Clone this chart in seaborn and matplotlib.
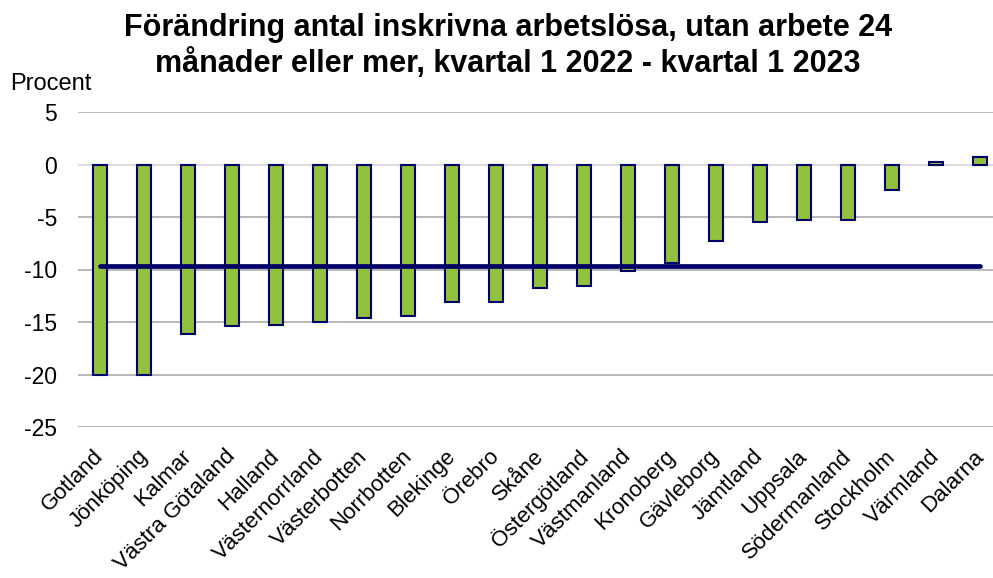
import matplotlib
matplotlib.use("Agg")
import matplotlib.pyplot as plt
from matplotlib.transforms import ScaledTranslation
import seaborn as sns
import pandas as pd

categories = ["Gotland", "Jönköping", "Kalmar", "Västra Götaland", "Halland",
              "Västernorrland", "Västerbotten", "Norrbotten", "Blekinge", "Örebro",
              "Skåne", "Östergötland", "Västmanland", "Kronoberg", "Gävleborg",
              "Jämtland", "Uppsala", "Södermanland", "Stockholm", "Värmland", "Dalarna"]
values = [-20.0, -20.0, -16.1, -15.4, -15.25, -15.0, -14.6, -14.4, -13.1, -13.05,
          -11.8, -11.55, -10.1, -9.4, -7.3, -5.5, -5.3, -5.3, -2.4, 0.2, 0.7]
average = -9.65
yticks = [5, 0, -5, -10, -15, -20, -25]

title = "Förändring antal inskrivna arbetslösa, utan arbete 24\nmånader eller mer, kvartal 1 2022 - kvartal 1 2023"
ylabel = "Procent"

sns.set_theme(style="white")
plt.rcParams['font.family'] = ['Liberation Sans', 'DejaVu Sans']
plt.rcParams['text.color'] = 'black'
plt.rcParams['xtick.color'] = 'black'
plt.rcParams['ytick.color'] = 'black'

df = pd.DataFrame({"region": categories, "value": values})

fig = plt.figure(figsize=(9.93, 5.78), dpi=100)
W, H = 993, 578
ax = fig.add_axes([78 / W, (H - 427) / H, (993 - 78) / W, (427 - 112) / H])

for t in yticks:
    ax.axhline(t, color="#d9d9d9" if t == 0 else "#b3b3b3", lw=1.3, zorder=0)

sns.barplot(data=df, x="region", y="value", color="#92c13e", edgecolor="#000066",
            linewidth=1.5, width=0.32, saturation=1, ax=ax, zorder=2)

n = len(categories)
ax.plot([0, n - 1], [average, average], color="#000066", lw=3.4,
        solid_capstyle="round", zorder=3)

ax.set_ylim(-25, 5)
ax.set_xlim(-0.5, n - 1 + 0.3)
ax.set_yticks(yticks)
ax.set_yticklabels([str(t) for t in yticks], fontsize=16.5)
ax.tick_params(axis="y", length=0, pad=15)
ax.tick_params(axis="x", length=0, pad=10)
ax.set_xticks(range(n))
ax.set_xticklabels(categories, rotation=45, ha="right", va="top",
                   rotation_mode="anchor", fontsize=16)
shift = ScaledTranslation(-0.07, -0.05, fig.dpi_scale_trans)
for lab in ax.get_xticklabels():
    lab.set_transform(lab.get_transform() + shift)
ax.set_xlabel("")
ax.set_ylabel("")
for s in ax.spines.values():
    s.set_visible(False)

fig.text(10 / W, 1 - 89.5 / H, ylabel, fontsize=17, ha="left", va="baseline")
fig.text(508 / W, 1 - 13 / H, title, fontsize=22, fontweight="bold", ha="center",
         va="top", linespacing=1.2)

fig.savefig("out.png", dpi=100)
